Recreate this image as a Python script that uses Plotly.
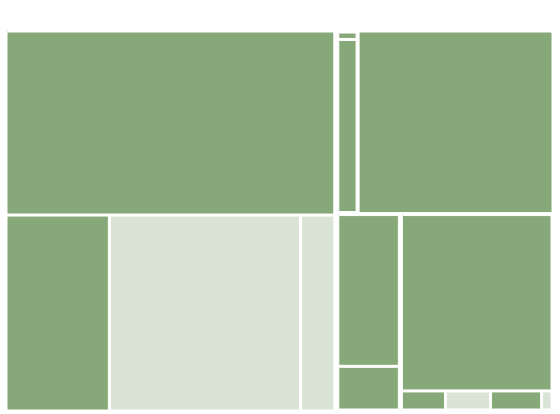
import plotly.graph_objects as go

GREEN = "#87A878"
LIGHT = "#DAE4D6"

ids = ["root", "A", "R",
       "a1", "a2", "a3", "a4",
       "B", "C", "D", "E",
       "b1", "b2",
       "d1", "d2",
       "e1", "e2", "e3", "e4", "e5"]
parents = ["", "root", "root",
           "A", "A", "A", "A",
           "R", "R", "R", "R",
           "B", "B",
           "D", "D",
           "E", "E", "E", "E", "E"]
values = [0, 0, 0,
          60790, 20340, 37630, 6745,
          0, 35860, 0, 0,
          161, 3752,
          9811, 2826,
          27400, 868, 887, 1004, 205]
shade = ["p", "p", "p",
         "g", "g", "l", "l",
         "p", "g", "p", "p",
         "g", "g",
         "g", "g",
         "g", "g", "l", "g", "l"]

cmap = {"g": GREEN, "l": LIGHT, "p": "#ffffff"}
colors = [cmap[s] for s in shade]

fig = go.Figure(go.Treemap(
    ids=ids,
    labels=ids,
    parents=parents,
    values=values,
    branchvalues="remainder",
    sort=False,
    textinfo="none",
    hoverinfo="skip",
    marker=dict(colors=colors, line=dict(color="#ffffff", width=1),
                pad=dict(t=1, l=1, r=1, b=1), cornerradius=3),
    tiling=dict(packing="squarify", pad=2),
    pathbar=dict(visible=False),
))
fig.update_layout(
    width=560, height=414,
    margin=dict(l=5, r=6, t=30, b=2),
    paper_bgcolor="#ffffff",
    plot_bgcolor="#ffffff",
    showlegend=False,
)
fig.write_html("out.html")
